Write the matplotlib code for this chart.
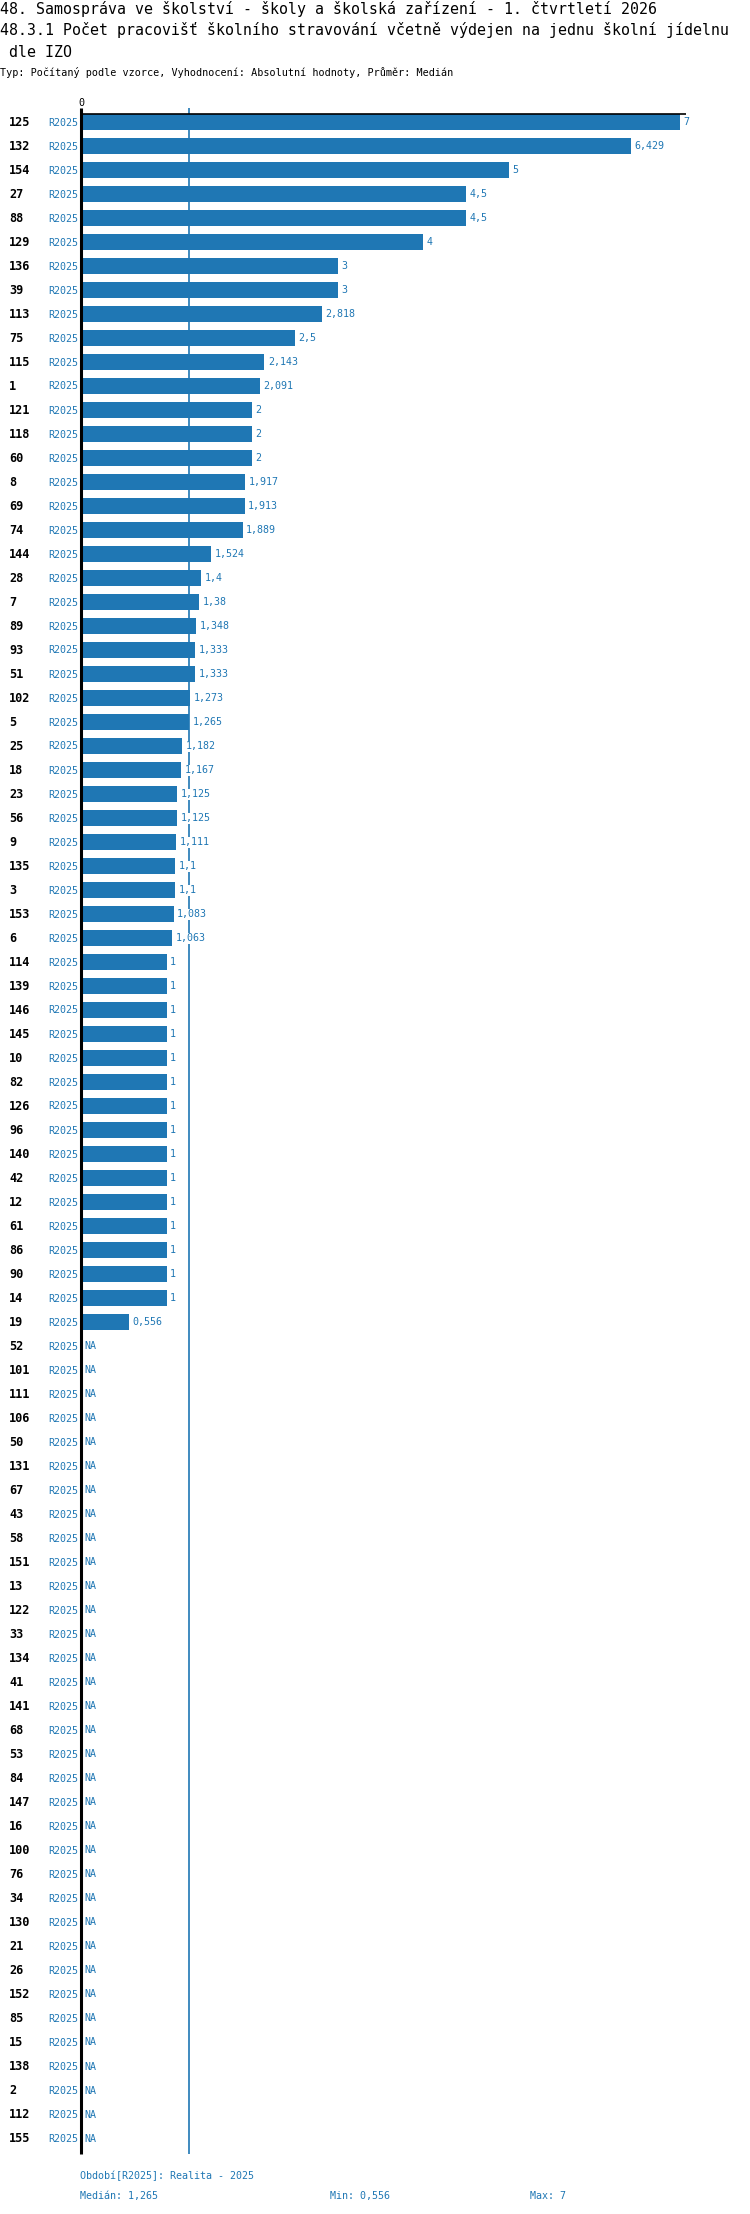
import matplotlib
matplotlib.use("Agg")
import matplotlib.pyplot as plt
import numpy as np

# ---- data ----
categories = ["125", "132", "154", "27", "88", "129", "136", "39", "113", "75",
              "115", "1", "121", "118", "60", "8", "69", "74", "144", "28",
              "7", "89", "93", "51", "102", "5", "25", "18", "23", "56",
              "9", "135", "3", "153", "6", "114", "139", "146", "145", "10",
              "82", "126", "96", "140", "42", "12", "61", "86", "90", "14",
              "19", "52", "101", "111", "106", "50", "131", "67", "43", "58",
              "151", "13", "122", "33", "134", "41", "141", "68", "53", "84",
              "147", "16", "100", "76", "34", "130", "21", "26", "152", "85",
              "15", "138", "2", "112", "155"]
values = [7, 6.429, 5, 4.5, 4.5, 4, 3, 3, 2.818, 2.5,
          2.143, 2.091, 2, 2, 2, 1.917, 1.913, 1.889, 1.524, 1.4,
          1.38, 1.348, 1.333, 1.333, 1.273, 1.265, 1.182, 1.167, 1.125, 1.125,
          1.111, 1.1, 1.1, 1.083, 1.063, 1, 1, 1, 1, 1,
          1, 1, 1, 1, 1, 1, 1, 1, 1, 1,
          0.556] + [None] * 34
period = "R2025"
title_lines = ["48. Samospráva ve školství - školy a školská zařízení - 1. čtvrtletí 2026",
               "48.3.1 Počet pracovišť školního stravování včetně výdejen na jednu školní jídelnu",
               " dle IZO"]
subtitle = "Typ: Počítaný podle vzorce, Vyhodnocení: Absolutní hodnoty, Průměr: Medián"
legend_text = "Období[R2025]: Realita - 2025"

# ---- style ----
W, H = 750, 2214
BLUE = "#1f77b4"
MONO = ["DejaVu Sans Mono"]


def fmt(v):
    s = f"{v:.3f}".rstrip("0").rstrip(".")
    return s.replace(".", ",")


fig = plt.figure(figsize=(W / 100, H / 100), dpi=100)

# pixel geometry
row0 = 122.5
step = 24.0
ax_top_px = 114.3
ax_bot_px = 2154.0
ax_left_px = 81.0
ax_right_px = 686.0
px_per_unit = 85.6

ytop = (ax_top_px - row0) / step
ybot = (ax_bot_px - row0) / step
xmax = (ax_right_px - ax_left_px) / px_per_unit

ax = fig.add_axes([ax_left_px / W, 1 - ax_bot_px / H,
                   (ax_right_px - ax_left_px) / W, (ax_bot_px - ax_top_px) / H])
ax.set_xlim(0, xmax)
ax.set_ylim(ybot, ytop)
ax.axis("off")

n = len(categories)
ypos = np.arange(n)
vals = np.array([np.nan if v is None else v for v in values], dtype=float)
present = ~np.isnan(vals)

# median line
valid = vals[present]
median = float(np.median(valid))
vmin = float(valid.min())
vmax = float(valid.max())
ext = 6.3 / step
ax.plot([median, median], [ytop - ext, ybot], color=BLUE, lw=1.2, zorder=1,
        clip_on=False, solid_capstyle="butt")

# bars
ax.barh(ypos[present], vals[present], height=16 / step, color=BLUE, zorder=2)

# axes lines
ax.plot([0, xmax], [ytop, ytop], color="black", lw=1.2, zorder=3, clip_on=False,
        solid_capstyle="butt")
ax.plot([0, 0], [ytop - ext, ybot], color="black", lw=2.2, zorder=4, clip_on=False,
        solid_capstyle="butt")
ax.text(0, ytop - 11.5 / step, "0", ha="center", va="center", fontsize=7.3,
        family=MONO, color="black")

# labels
for i, (c, v) in enumerate(zip(categories, vals)):
    fig.text(9.3 / W, 1 - (row0 + step * i) / H, c, ha="left", va="center",
             fontsize=8.6, fontweight="bold", family=MONO, color="black")
    fig.text(78.5 / W, 1 - (row0 + step * i) / H, period, ha="right", va="center",
             fontsize=7.2, family=MONO, color=BLUE)
    if np.isnan(v):
        ax.annotate("NA", xy=(0, i), xytext=(2.7, 0), textcoords="offset points",
                    ha="left", va="center", fontsize=7.2, family=MONO, color=BLUE,
                    zorder=5)
    else:
        ax.annotate(fmt(v), xy=(v, i), xytext=(2.5, 0), textcoords="offset points",
                    ha="left", va="center", fontsize=7.2, family=MONO, color=BLUE,
                    zorder=5,
                    bbox=dict(facecolor="white", edgecolor="none", pad=0.6))

# titles
fig.text(0, 1 - 9 / H, title_lines[0], ha="left", va="center", fontsize=10.75,
         family=MONO, color="black")
fig.text(0, 1 - 30.5 / H, title_lines[1], ha="left", va="center", fontsize=10.75,
         family=MONO, color="black")
fig.text(0, 1 - 52.5 / H, title_lines[2], ha="left", va="center", fontsize=10.75,
         family=MONO, color="black")
fig.text(0, 1 - 72.3 / H, subtitle, ha="left", va="center", fontsize=7.25,
         family=MONO, color="black")

# footer
fig.text(80 / W, 1 - 2175.7 / H, legend_text, ha="left", va="center", fontsize=7.2,
         family=MONO, color=BLUE)
fig.text(80 / W, 1 - 2195.7 / H, "Medián: " + fmt(median), ha="left", va="center",
         fontsize=7.2, family=MONO, color=BLUE)
fig.text(329.7 / W, 1 - 2195.7 / H, "Min: " + fmt(vmin), ha="left", va="center",
         fontsize=7.2, family=MONO, color=BLUE)
fig.text(530 / W, 1 - 2195.7 / H, "Max: " + fmt(vmax), ha="left", va="center",
         fontsize=7.2, family=MONO, color=BLUE)

fig.savefig("out.png", dpi=100, facecolor="white")
